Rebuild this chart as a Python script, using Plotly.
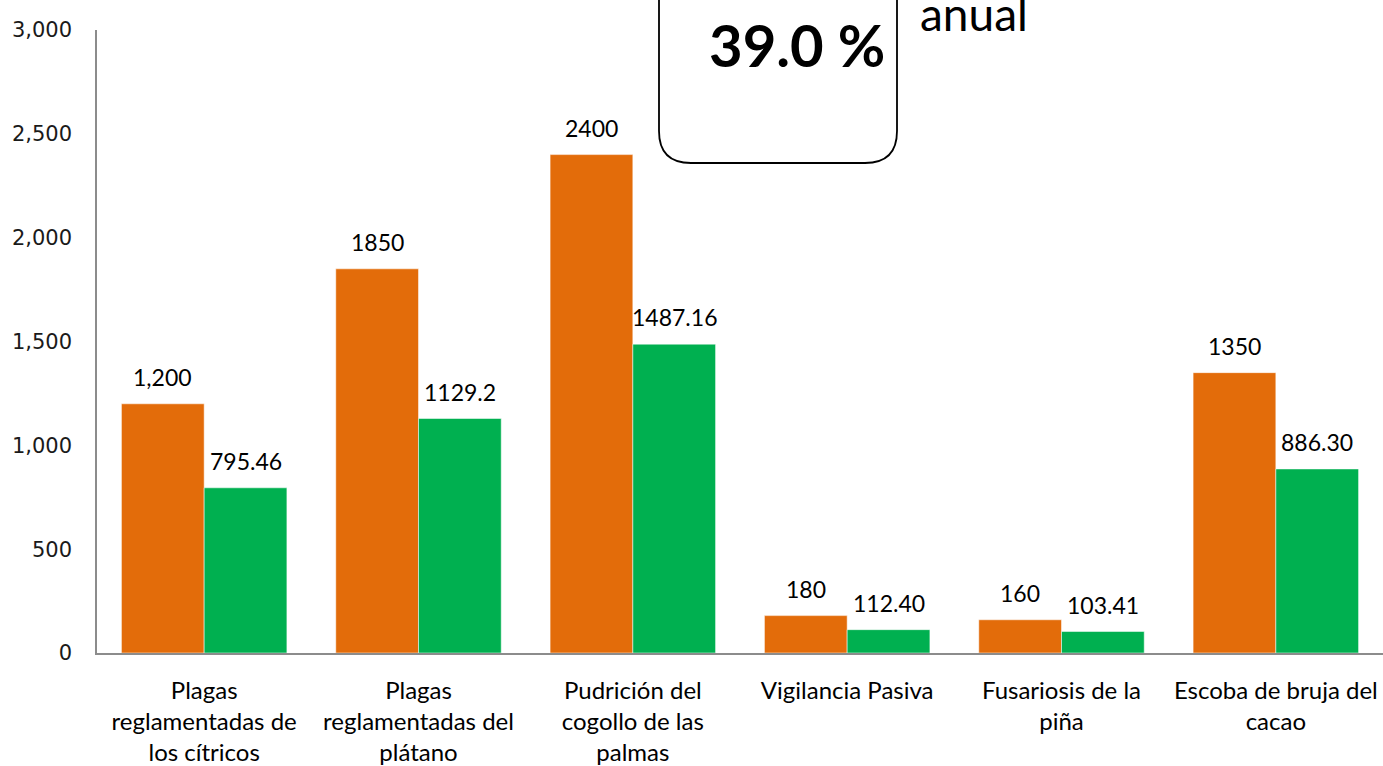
import plotly.graph_objects as go

categories = [
    "Plagas<br>reglamentadas de<br>los cítricos",
    "Plagas<br>reglamentadas del<br>plátano",
    "Pudrición del<br>cogollo de las<br>palmas",
    "Vigilancia Pasiva",
    "Fusariosis de la<br>piña",
    "Escoba de bruja del<br>cacao",
]
programado = [1200, 1850, 2400, 180, 160, 1350]
ejecutado = [795.46, 1129.2, 1487.16, 112.40, 103.41, 886.30]
labels_programado = ["1,200", "1850", "2400", "180", "160", "1350"]
labels_ejecutado = ["795.46", "1129.2", "1487.16", "112.40", "103.41", "886.30"]
y_ticks = [0, 500, 1000, 1500, 2000, 2500, 3000]
y_ticktext = ["0", "500", "1,000", "1,500", "2,000", "2,500", "3,000"]

ORANGE = "#E36C0A"
GREEN = "#00B050"
FONT = "Lato"

fig = go.Figure()
fig.add_trace(go.Bar(x=categories, y=programado, name="Programado",
                     marker=dict(color=ORANGE, line=dict(color="rgba(255,255,255,0.5)", width=1))))
fig.add_trace(go.Bar(x=categories, y=ejecutado, name="Ejecutado",
                     marker=dict(color=GREEN, line=dict(color="rgba(255,255,255,0.5)", width=1))))

W, H = 1383, 766
ml, mr, mt, mb = 97, 0, 30, 113
plot_w = W - ml - mr
plot_h = H - mt - mb
bargap = 0.228
bar_px = plot_w / len(categories) * (1 - bargap) / 2

annotations = []
for cat, v, t in zip(categories, programado, labels_programado):
    annotations.append(dict(x=cat, y=v, xref="x", yref="y", text=t, showarrow=False,
                            xshift=-bar_px / 2, yshift=27, yanchor="middle",
                            font=dict(family=FONT, size=23, color="#000000")))
for cat, v, t in zip(categories, ejecutado, labels_ejecutado):
    annotations.append(dict(x=cat, y=v, xref="x", yref="y", text=t, showarrow=False,
                            xshift=bar_px / 2, yshift=27, yanchor="middle",
                            font=dict(family=FONT, size=23, color="#000000")))

# rounded box in paper coordinates
def px_to_paper_x(px):
    return (px - ml) / plot_w

def px_to_paper_y(py):
    return (H - mb - py) / plot_h

x0, x1 = px_to_paper_x(659), px_to_paper_x(897)
y_top, y_bot = px_to_paper_y(-10), px_to_paper_y(163)
rx = 32 / plot_w
ry = 32 / plot_h
path = (f"M {x0},{y_top} L {x0},{y_bot + ry} Q {x0},{y_bot} {x0 + rx},{y_bot} "
        f"L {x1 - rx},{y_bot} Q {x1},{y_bot} {x1},{y_bot + ry} L {x1},{y_top}")
shapes = [dict(type="path", path=path, xref="paper", yref="paper",
               line=dict(color="#000000", width=1.8), fillcolor="rgba(0,0,0,0)")]

annotations.append(dict(x=px_to_paper_x(797), y=px_to_paper_y(44), xref="paper", yref="paper",
                        text="<b>39.0 %</b>", showarrow=False, xanchor="center", yanchor="middle",
                        font=dict(family=FONT, size=58, color="#000000")))
annotations.append(dict(x=px_to_paper_x(918), y=px_to_paper_y(13), xref="paper", yref="paper",
                        text="anual", showarrow=False, xanchor="left", yanchor="middle",
                        font=dict(family=FONT, size=46, color="#000000")))

fig.update_layout(
    width=W, height=H,
    margin=dict(l=ml, r=mr, t=mt, b=mb, pad=0, autoexpand=False),
    barmode="group", bargap=bargap, bargroupgap=0,
    plot_bgcolor="white", paper_bgcolor="white",
    showlegend=False,
    shapes=shapes,
    annotations=annotations,
    font=dict(family=FONT, color="#000000"),
)
fig.update_xaxes(showline=True, linecolor="#8c8c8c", linewidth=2, ticks="",
                 tickfont=dict(family=FONT, size=24, color="#000000"),
                 ticklabelstandoff=15, showgrid=False, automargin=False)
fig.update_yaxes(range=[0, 3000], tickvals=y_ticks, ticktext=y_ticktext,
                 showline=True, linecolor="#8c8c8c", linewidth=1.5, ticks="",
                 showgrid=False, zeroline=False, automargin=False,
                 tickfont=dict(family="DejaVu Sans", size=21, color="#1a1a1a"),
                 ticklabelstandoff=19)

fig.write_html("out.html", config={"displayModeBar": False},
               post_script="document.body.style.margin='0';document.body.style.overflow='hidden';")
